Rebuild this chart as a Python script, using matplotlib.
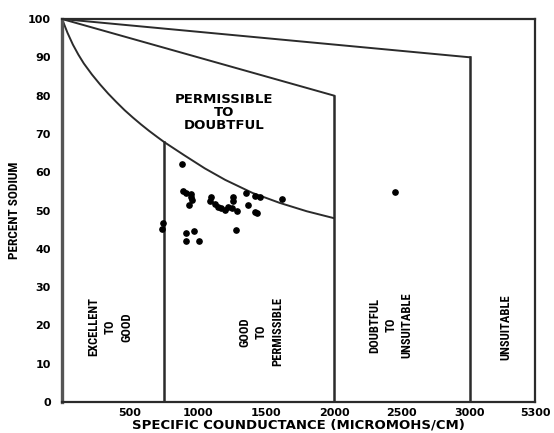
import matplotlib
matplotlib.use("Agg")
import matplotlib.pyplot as plt

# sample points: specific conductance (micromhos/cm) vs percent sodium
cond = [884, 892, 915, 945, 950, 955, 936, 1095, 1088, 1125, 1150, 1170,
        1198, 1222, 1247, 1284, 1259, 1259, 1350, 1369, 1419, 1455, 1419,
        1431, 1615, 745, 733, 911, 972, 911, 1007, 1277, 2448]
sodium = [62.1, 55.1, 54.5, 54.3, 53.5, 52.8, 51.4, 53.6, 52.6, 51.7, 51.0,
          50.6, 50.1, 51.0, 50.6, 50.0, 53.6, 52.6, 54.5, 51.4, 53.8, 53.4,
          49.7, 49.3, 52.9, 46.8, 45.2, 44.0, 44.6, 42.1, 42.1, 44.9, 54.9]

# class boundaries
curve_cond = [0, 40, 80, 120, 160, 220, 280, 340, 400, 460, 520, 580, 640,
              700, 750, 900, 1050, 1200, 1400, 1600, 1800, 2000]
curve_na = [100, 96.4, 93.3, 90.7, 88.4, 85.5, 82.9, 80.5, 78.3, 76.2, 74.3,
            72.5, 70.8, 69.2, 67.9, 64.4, 61.0, 58.0, 54.6, 52.0, 49.8, 48.0]
mid_line_cond = [0, 2000]
mid_line_na = [100, 80]
top_line_cond = [0, 3000]
top_line_na = [100, 90]
x_end = 3480

xticks = [500, 1000, 1500, 2000, 2500, 3000, x_end]
xtick_labels = ["500", "1000", "1500", "2000", "2500", "3000", "5300"]
yticks = list(range(0, 101, 10))

LINE = "#2b2b2b"
narrow = ["Roboto Condensed", "Liberation Sans Narrow", "Liberation Sans"]

fig = plt.figure(figsize=(5.54, 4.33), dpi=100)
ax = fig.add_axes([0.112, 0.0716, 0.854, 0.8845])

ax.plot(curve_cond, curve_na, color=LINE, lw=1.4)
ax.plot(mid_line_cond, mid_line_na, color=LINE, lw=1.4)
ax.plot(top_line_cond, top_line_na, color=LINE, lw=1.4)
ax.plot([750, 750], [0, curve_na[curve_cond.index(750)]], color=LINE, lw=1.8)
ax.plot([2000, 2000], [0, mid_line_na[-1]], color=LINE, lw=1.8)
ax.plot([3000, 3000], [0, top_line_na[-1]], color=LINE, lw=1.8)

ax.plot(cond, sodium, "o", color="black", ms=3.8, mec="black")

ax.set_xlim(0, x_end)
ax.set_ylim(0, 100)
for side in ["top", "right", "bottom"]:
    ax.spines[side].set_color(LINE)
    ax.spines[side].set_linewidth(1.6)
ax.spines["left"].set_color("#555555")
ax.spines["left"].set_linewidth(2.4)

ax.set_xticks(xticks)
ax.set_xticklabels(xtick_labels)
ax.set_yticks(yticks)
ax.tick_params(axis="both", length=0, labelsize=8)
ax.tick_params(axis="y", pad=8)
ax.tick_params(axis="x", pad=4)
for lbl in ax.get_xticklabels() + ax.get_yticklabels():
    lbl.set_fontweight("bold")

ax.set_xlabel("SPECIFIC COUNDUCTANCE (MICROMOHS/CM)", fontsize=9.5,
              fontweight="bold", labelpad=1)
ax.set_ylabel("PERCENT SODIUM", fontsize=9.5, fontweight="bold",
              family=narrow, labelpad=5)

ax.text(1190, 75.5, "PERMISSIBLE\nTO\nDOUBTFUL", ha="center", va="center",
        fontsize=9.5, fontweight="bold", linespacing=1.0)

zone_kw = dict(rotation=90, ha="center", va="center", fontsize=9,
               fontweight="bold", family=narrow, linespacing=1.35,
               multialignment="center")
ax.text(353, 19.6, "EXCELLENT\nTO\nGOOD", **zone_kw)
ax.text(1463, 18.3, "GOOD\nTO\nPERMISSIBLE", **zone_kw)
ax.text(2418, 20.1, "DOUBTFUL\nTO\nUNSUITABLE", **zone_kw)
ax.text(3263, 19.6, "UNSUITABLE", **zone_kw)

fig.savefig("out.png", dpi=100)
